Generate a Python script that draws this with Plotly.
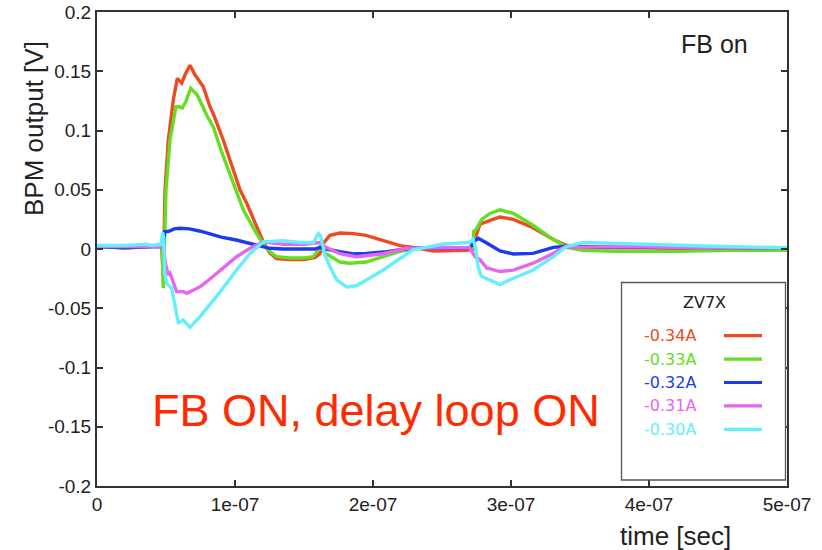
import plotly.graph_objects as go

# ---- data (time in ns, value in V) ----
red_t = [0, 20, 40, 47, 48, 49.3, 51.7, 55.3, 58.2, 61.4, 63.8, 67.4, 71, 77, 81.9, 84.3, 91.5, 98.8,
         103.6, 108.5, 115.7, 120.5, 125, 130, 140, 150, 158, 161.5, 164, 168.8, 176, 185.7, 195, 207.5,
         219.6, 229, 243.7, 268, 272.5, 274, 277.5, 287, 292, 301.7, 316, 330.7, 340.4, 360, 400, 450, 500]
red_v = [0.002, 0.001, 0.002, 0.002, -0.025, 0.050, 0.092, 0.126, 0.144, 0.140, 0.147, 0.155, 0.147, 0.137,
         0.120, 0.114, 0.092, 0.067, 0.050, 0.0386, 0.019, 0.006, -0.003, -0.008, -0.009, -0.009, -0.007,
         -0.004, 0.005, 0.0115, 0.0135, 0.013, 0.0115, 0.007, 0.0028, 0.0014, -0.0017, -0.001, 0.0, 0.009,
         0.021, 0.025, 0.027, 0.025, 0.018, 0.008, 0.003, 0.001, 0.001, 0.0, 0.0]

green_t = [0, 20, 40, 47, 47.5, 48, 50, 52.9, 57.2, 59.4, 61.8, 64.2, 67.9, 72.7, 79.9, 84.3, 90, 96, 101.2,
           106, 115.7, 120.5, 125, 130, 140, 150, 156.8, 161.6, 166, 176, 183, 195, 207.5, 219.6, 231.6,
           248, 270, 272.6, 273, 275, 278.8, 284.8, 292, 301.7, 316, 330.7, 340.4, 352, 376, 420, 460, 500]
green_v = [0.002, 0.001, 0.002, 0.002, -0.010, -0.033, 0.050, 0.092, 0.120, 0.120, 0.119, 0.124, 0.1356,
           0.130, 0.112, 0.103, 0.083, 0.064, 0.047, 0.033, 0.013, 0.004, -0.002, -0.0065, -0.0076, -0.0076,
           -0.0065, 0.0014, -0.004, -0.011, -0.012, -0.011, -0.0065, -0.002, 0.0006, 0.0006, 0.0006, 0.0014,
           0.015, 0.017, 0.025, 0.030, 0.033, 0.030, 0.020, 0.008, 0.0014, -0.001, -0.002, -0.002, -0.001,
           -0.001]

blue_t = [0, 20, 40, 47, 48, 49, 52, 56, 60, 67, 75, 82, 90, 101, 110, 116, 125, 135, 150, 158, 161.6, 166,
          176, 185.7, 195, 210, 226.8, 243.7, 270, 274, 276.3, 282.4, 292, 301.7, 316, 330.7, 340.4, 380,
          440, 500]
blue_v = [0.002, 0.001, 0.002, 0.002, 0.004, 0.0146, 0.015, 0.017, 0.0175, 0.017, 0.015, 0.013, 0.010,
          0.0076, 0.005, 0.0034, 0.0006, 0.0, 0.0, 0.0, 0.0014, 0.0, -0.0023, -0.0042, -0.0037, -0.0023,
          0.0006, 0.0006, 0.0006, 0.007, 0.009, 0.005, -0.0017, -0.0042, -0.0037, 0.0014, 0.0023, 0.0014,
          0.001, 0.001]

magenta_t = [0, 20, 40, 47, 48, 49.5, 51.7, 52.9, 57.7, 62.5, 65, 72.2, 74.6, 79.5, 86.7, 101.2, 110.9,
             120.5, 135, 150, 161.6, 166, 176, 188, 207.5, 224.4, 250, 270, 274, 277.5, 282.4, 292, 301.7,
             316, 330.7, 338, 380, 440, 500]
magenta_v = [0.002, 0.002, 0.002, 0.002, 0.003, -0.012, -0.022, -0.0205, -0.036, -0.036, -0.0374, -0.033,
             -0.032, -0.0276, -0.0205, -0.0065, 0.0006, 0.006, 0.004, 0.004, 0.0055, 0.0014, -0.004, -0.0065,
             -0.004, 0.0006, 0.001, 0.001, -0.0065, -0.009, -0.016, -0.019, -0.0178, -0.012, -0.0037, 0.0014,
             0.002, 0.001, 0.001]

cyan_t = [0, 20, 36, 40, 46.5, 47.5, 48.3, 49, 50.5, 54, 55.3, 58.9, 62.5, 67.4, 74.6, 86.7, 101.2, 110.9,
          120.5, 135, 147, 156.8, 160.4, 162, 165.2, 168.8, 173.7, 180.9, 188, 195.4, 207.5, 219.6, 229,
          238.7, 250.8, 270, 272.5, 274.4, 276.1, 278.5, 284.5, 292, 299.2, 316, 330.7, 340.4, 352.5, 388.7,
          440, 500]
cyan_v = [0.003, 0.003, 0.004, 0.003, 0.004, 0.014, 0.010, -0.020, -0.029, -0.033, -0.040, -0.062, -0.060,
          -0.066, -0.057, -0.040, -0.0177, -0.0037, 0.006, 0.007, 0.0055, 0.0055, 0.013, 0.011, -0.005,
          -0.015, -0.026, -0.032, -0.031, -0.026, -0.0177, -0.008, -0.0008, 0.0014, 0.0042, 0.0055, 0.008,
          0.0014, -0.015, -0.023, -0.026, -0.030, -0.026, -0.0177, -0.0065, 0.0023, 0.0055, 0.004, 0.0025,
          0.001]

series_names = ["-0.34A", "-0.33A", "-0.32A", "-0.31A", "-0.30A"]
series_colors = ["#ee4a24", "#66dd22", "#1a3cee", "#e866ee", "#66eefa"]
series_t = [red_t, green_t, blue_t, magenta_t, cyan_t]
series_v = [red_v, green_v, blue_v, magenta_v, cyan_v]

x_tick_vals = [0, 1e-7, 2e-7, 3e-7, 4e-7, 5e-7]
x_tick_text = ["0", "1e-07", "2e-07", "3e-07", "4e-07", "5e-07"]
y_tick_vals = [-0.2, -0.15, -0.1, -0.05, 0, 0.05, 0.1, 0.15, 0.2]
y_tick_text = ["-0.2", "-0.15", "-0.1", "-0.05", "0", "0.05", "0.1", "0.15", "0.2"]

# ---- figure ----
W, H = 822, 550
ML, MR, MT, MB = 97, 35, 12, 64
PW, PH = W - ML - MR, H - MT - MB


def px_x(p):
    return (p - ML) / PW


def px_y(p):
    return (H - MB - p) / PH


fig = go.Figure()
for name, col, t, v in zip(series_names, series_colors, series_t, series_v):
    fig.add_trace(go.Scatter(x=[ti * 1e-9 for ti in t], y=v, mode="lines", name=name,
                             line=dict(color=col, width=3.4), showlegend=False))

axis_common = dict(showline=True, mirror="ticks", linecolor="#333", linewidth=2,
                   ticks="inside", ticklen=6, tickwidth=1.5, tickcolor="#333",
                   showgrid=False, zeroline=False, automargin=False,
                   tickfont=dict(family="Liberation Sans, Arial", size=19, color="#222"))

fig.update_layout(
    width=W, height=H,
    margin=dict(l=ML, r=MR, t=MT, b=MB, autoexpand=False),
    paper_bgcolor="white", plot_bgcolor="white",
    xaxis=dict(range=[0, 5e-7], tickvals=x_tick_vals, ticktext=x_tick_text, **axis_common),
    yaxis=dict(range=[-0.2, 0.2], tickvals=y_tick_vals, ticktext=y_tick_text, **axis_common),
)

font_main = "Liberation Sans, Arial"
ann = []
ann.append(dict(text="BPM output [V]", xref="paper", yref="paper", x=px_x(34), y=px_y(129),
                textangle=-90, showarrow=False, xanchor="center", yanchor="middle",
                font=dict(family=font_main, size=26, color="#222")))
ann.append(dict(text="time [sec]", xref="paper", yref="paper", x=px_x(675), y=px_y(536),
                showarrow=False, xanchor="center", yanchor="middle",
                font=dict(family=font_main, size=26, color="#222")))
ann.append(dict(text="FB on", xref="paper", yref="paper", x=px_x(679), y=px_y(44),
                showarrow=False, xanchor="left", yanchor="middle",
                font=dict(family=font_main, size=25, color="#222")))
ann.append(dict(text="FB ON, delay loop ON", xref="paper", yref="paper", x=px_x(150), y=px_y(410),
                showarrow=False, xanchor="left", yanchor="middle",
                font=dict(family=font_main, size=45, color="#ff2a00")))

# custom legend (text left of line sample)
shapes = [dict(type="rect", xref="paper", yref="paper", x0=px_x(621.5), x1=px_x(785.5),
               y0=px_y(480), y1=px_y(282.5), line=dict(color="#555", width=1.3), fillcolor="white",
               layer="above")]
ann.append(dict(text="ZV7X", xref="paper", yref="paper", x=px_x(704), y=px_y(302),
                showarrow=False, xanchor="center", yanchor="middle",
                font=dict(family="DejaVu Sans", size=16, color="#222")))
for i, (name, col) in enumerate(zip(series_names, series_colors)):
    yy = 335.7 + 23.4 * i
    ann.append(dict(text=name, xref="paper", yref="paper", x=px_x(698), y=px_y(yy),
                    showarrow=False, xanchor="right", yanchor="middle",
                    font=dict(family="DejaVu Sans", size=16, color=col)))
    shapes.append(dict(type="line", xref="paper", yref="paper", x0=px_x(724), x1=px_x(762),
                       y0=px_y(yy), y1=px_y(yy), line=dict(color=col, width=3.2), layer="above"))

fig.update_layout(annotations=ann, shapes=shapes)
fig.write_html("out.html")
